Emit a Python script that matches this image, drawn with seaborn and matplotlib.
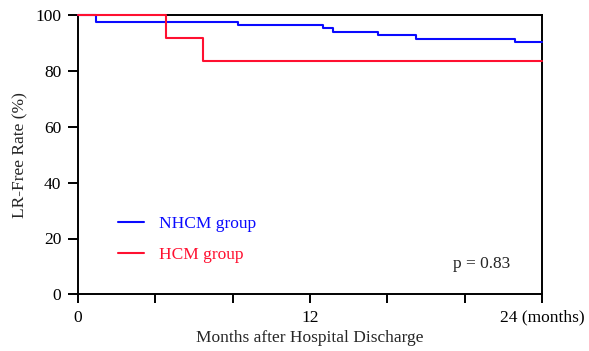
import matplotlib
matplotlib.use("Agg")
import matplotlib.pyplot as plt
import seaborn as sns
import pandas as pd

# Data
nhcm_months = [0, 0.92, 8.26, 12.69, 13.17, 15.5, 17.5, 22.6, 24]
nhcm_rate = [100, 97.5, 96.6, 95.3, 94.0, 93.0, 91.6, 90.4, 90.4]
hcm_months = [0, 4.57, 6.45, 24]
hcm_rate = [100, 91.8, 83.5, 83.5]
group_names = ["NHCM group", "HCM group"]
group_colors = ["#0A0AFF", "#FF1030"]
x_ticks = [0, 4, 8, 12, 16, 20, 24]
x_ticklabels = ["0", "", "", "12", "", "", "24 (months)"]
y_ticks = [0, 20, 40, 60, 80, 100]
p_text = "p = 0.83"

df = pd.concat([
    pd.DataFrame({"month": nhcm_months, "rate": nhcm_rate, "group": group_names[0]}),
    pd.DataFrame({"month": hcm_months, "rate": hcm_rate, "group": group_names[1]}),
], ignore_index=True)

sns.set_style("ticks")
plt.rcParams["font.family"] = ["Liberation Serif", "DejaVu Serif"]

fig = plt.figure(figsize=(5.89, 3.51), dpi=100)
ax = fig.add_axes([78 / 589, 1 - 294.3 / 351, (542 - 78) / 589, (294.3 - 15.3) / 351])

sns.lineplot(data=df, x="month", y="rate", hue="group", hue_order=group_names,
             palette=group_colors, drawstyle="steps-post", linewidth=1.5,
             estimator=None, errorbar=None, sort=False, ax=ax, clip_on=False, zorder=3)

ax.set_xlim(0, 24)
ax.set_ylim(0, 100)
ax.set_xticks(x_ticks)
ax.set_xticklabels(x_ticklabels)
ax.set_yticks(y_ticks)
for s in ax.spines.values():
    s.set_visible(True)
    s.set_linewidth(1.4)
    s.set_color("black")
ax.tick_params(axis="both", direction="out", length=7, width=1.4, labelsize=12.5,
               colors="black", pad=5)
ax.tick_params(axis="x", length=6.5, pad=4.5)

ax.set_xlabel("Months after Hospital Discharge", fontsize=12.5, labelpad=3)
ax.set_ylabel("LR-Free Rate (%)", fontsize=12.5, labelpad=5)

leg = ax.legend(loc="lower left", bbox_to_anchor=(0.053, 0.055), frameon=False,
                fontsize=12.5, handlelength=1.5, handletextpad=0.85, labelspacing=0.85,
                labelcolor="linecolor")
for h in leg.legend_handles:
    h.set_linewidth(1.5)

ax.text(19.4, 10.9, p_text, fontsize=12.5, ha="left", va="center")

fig.savefig("out.png", dpi=100)
